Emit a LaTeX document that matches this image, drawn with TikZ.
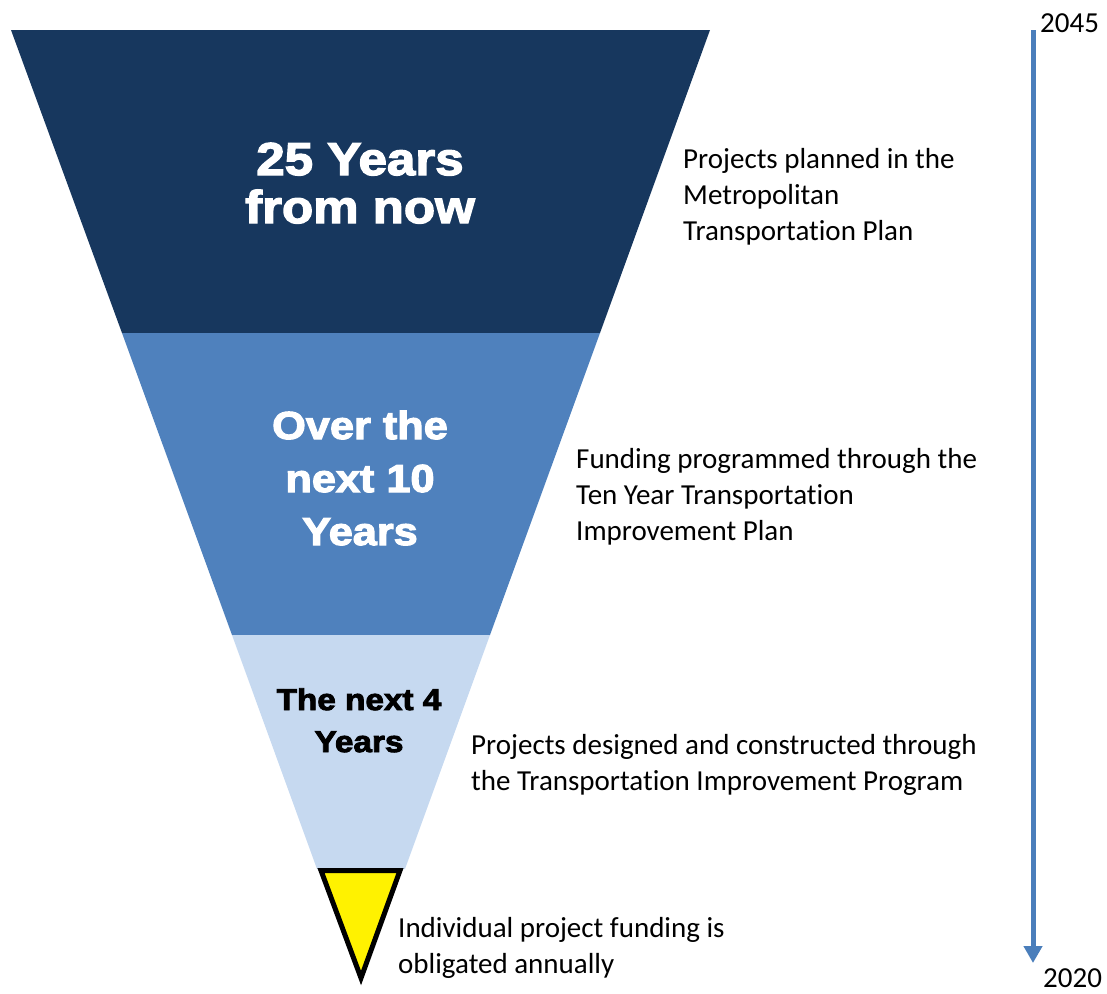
\documentclass[tikz,border=0pt]{standalone}
\usepackage{fontspec}
\setmainfont{Carlito}[Ligatures=NoCommon]
\newfontfamily\heavyfont{Liberation Sans Bold}[FakeBold=3,FakeStretch=1.11]
\usetikzlibrary{arrows.meta}

\begin{document}
\begin{tikzpicture}[x=1pt, y=-1pt,
heading/.style={font=\heavyfont, align=center, anchor=base, inner sep=0pt},
note/.style={font=\fontsize{29}{36}\selectfont, align=left, anchor=base west, inner sep=0pt},
arrow/.style={line width=5pt, draw=timeblue, -{Triangle[width=18pt, length=17pt]}} ]

% Define colors
\definecolor{navy}{RGB}{23, 55, 94}
\definecolor{midblue}{RGB}{79, 129, 189}
\definecolor{paleblue}{RGB}{198, 217, 240}
\definecolor{timeblue}{RGB}{74, 126, 187}

\useasboundingbox (0,0) rectangle (1107,993);

% Funnel
\fill[navy] (11,30) -- (710,30) -- (600,333) -- (122,333) -- cycle;
\fill[midblue] (122,333) -- (600,333) -- (490,635) -- (232,635) -- cycle;
\fill[paleblue] (232,635) -- (490,635) -- (405,869) -- (317,869) -- cycle;
\draw[line width=5pt, fill=yellow] (321,870.5) -- (400,870.5) -- (361,978) -- cycle;

% Nodes (anchored at the baseline of the last line)
\node[heading, text=white, font=\heavyfont\fontsize{46}{48}\selectfont] (long) at (360,223) {25 Years\\from now};
\node[heading, text=white, font=\heavyfont\fontsize{39}{53}\selectfont] (mid) at (360,545) {Over the\\next 10\\Years};
\node[heading, text=black, font=\heavyfont\fontsize{30}{42}\selectfont] (near) at (359,752) {The next 4\\Years};

\node[note] (plan) at (683,240) {Projects planned in the\\Metropolitan\\Transportation Plan};
\node[note] (tenyear) at (576,540) {Funding programmed through the\\Ten Year Transportation\\Improvement Plan};
\node[note] (tip) at (471,790) {Projects designed and constructed through\\the Transportation Improvement Program};
\node[note] (annual) at (398,973) {Individual project funding is\\obligated annually};

\node[note] (y2045) at (1040,32) {2045};
\node[note] (y2020) at (1043,987) {2020};
\coordinate (start) at (1033,30);
\coordinate (finish) at (1033,963);

% Arrows
\draw[arrow] (start) -- (finish);

\end{tikzpicture}
\end{document}
